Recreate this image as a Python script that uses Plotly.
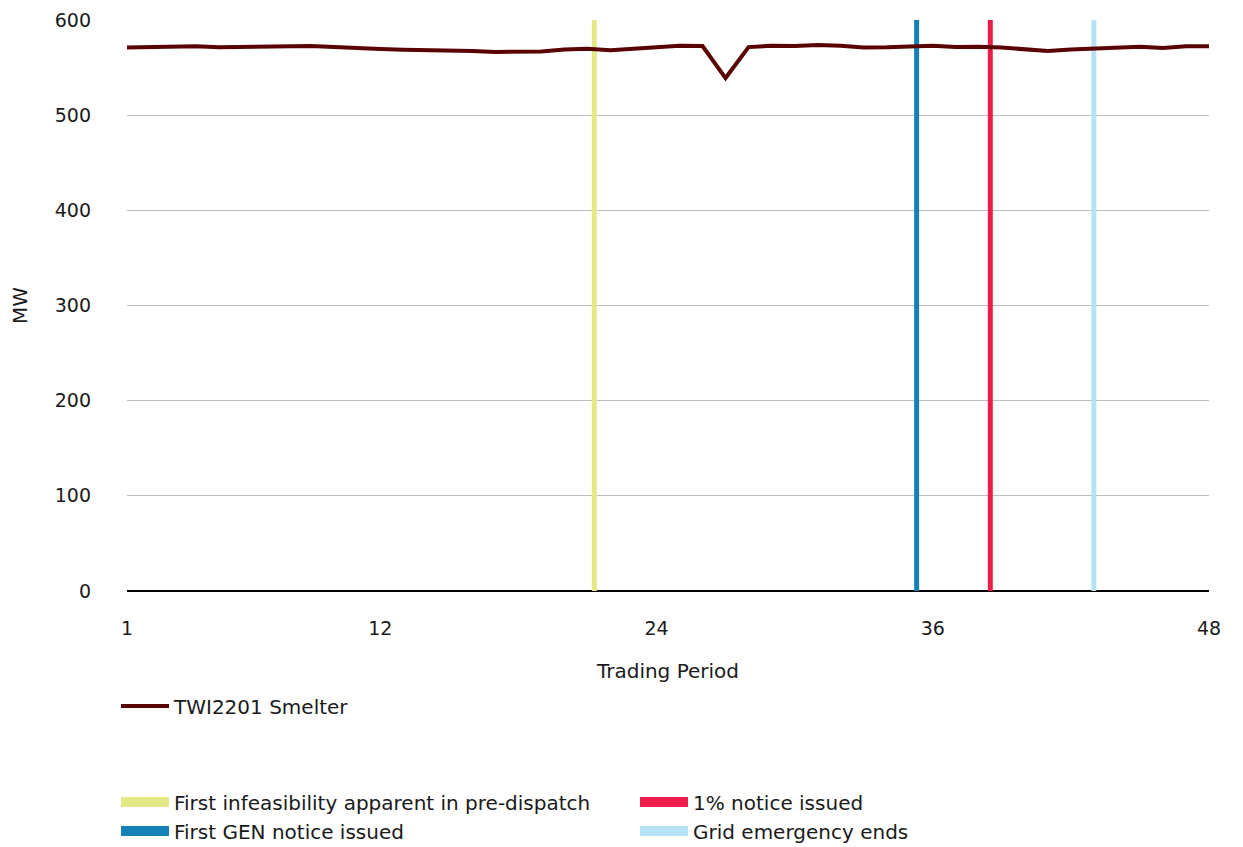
import plotly.graph_objects as go

periods = list(range(1, 49))
smelter_mw = [571, 571.5, 572, 572.3, 571.3, 571.8, 572, 573, 572.8, 571.5,
              570, 569.5, 568.8, 568.5, 567.8, 567.4, 566.5, 566.3, 567, 569,
              569.7, 568.2, 569.5, 571.5, 573, 572.7, 539, 571.5, 573, 572.8,
              573.7, 573, 571, 571.3, 572.5, 573, 571.5, 572, 571, 569,
              567.5, 569, 570, 571.5, 572, 570.5, 572.4, 572.4]

event_names = ["First infeasibility apparent in pre-dispatch", "1% notice issued",
               "First GEN notice issued", "Grid emergency ends"]
event_periods = [21.3, 38.5, 35.3, 43.0]
event_colors = ["#e4e885", "#ee1c4b", "#1480b6", "#b6e2f6"]

x_ticks = [1, 12, 24, 36, 48]
y_ticks = [0, 100, 200, 300, 400, 500, 600]

FONT = "DejaVu Sans"
W, H = 1243, 847

fig = go.Figure()

# vertical event lines
for name, p, c in zip(event_names, event_periods, event_colors):
    fig.add_trace(go.Scatter(x=[p, p], y=[0, 600], mode="lines",
                             line=dict(color=c, width=5), showlegend=False,
                             hoverinfo="skip"))

fig.add_trace(go.Scatter(x=periods, y=smelter_mw, mode="lines",
                         name="TWI2201 Smelter",
                         line=dict(color="#5a0303", width=4),
                         legend="legend"))

# legend entries for events
for name, p, c in zip(event_names, event_periods, event_colors):
    fig.add_trace(go.Scatter(x=[None], y=[None], mode="lines", name=name,
                             line=dict(color=c, width=14), legend="legend2"))

fig.update_layout(
    width=W, height=H,
    margin=dict(l=119, r=42, t=12, b=264, autoexpand=False),
    paper_bgcolor="white", plot_bgcolor="white",
    font=dict(family=FONT, size=19, color="#1a1a1a"),
    xaxis=dict(range=[1, 48], tickvals=x_ticks, ticktext=[str(t) for t in x_ticks],
               showgrid=False, zeroline=False, showline=False,
               ticks="", ticklabelstandoff=24, tickfont=dict(size=19),
               title=dict(text="Trading Period", standoff=25,
                          font=dict(size=20))),
    yaxis=dict(range=[0, 600], tickvals=y_ticks, showgrid=True,
               gridcolor="#bdbdbd", gridwidth=1, zeroline=True,
               zerolinecolor="#000000", zerolinewidth=2,
               ticks="", ticklabelstandoff=35, tickfont=dict(size=19),
               title=dict(text="MW", standoff=26, font=dict(size=20))),
    legend=dict(xref="container", yref="container",
                x=108 / W, y=1 - 698 / H, xanchor="left", yanchor="middle",
                orientation="h", font=dict(size=20), itemwidth=48,
                bgcolor="rgba(0,0,0,0)"),
    legend2=dict(xref="container", yref="container",
                 x=108 / W, y=1 - 808.5 / H, xanchor="left", yanchor="middle",
                 orientation="h", entrywidth=456, entrywidthmode="pixels",
                 itemwidth=48, font=dict(size=20), bgcolor="rgba(0,0,0,0)",
                 tracegroupgap=0),
)

fig.write_html("out.html")
